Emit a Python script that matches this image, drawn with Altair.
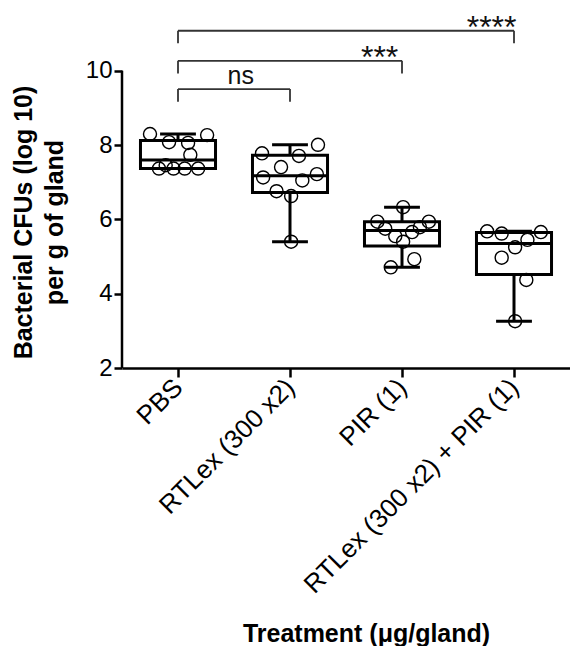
import json
import numpy as np
import pandas as pd
import altair as alt

# ---------------- data ----------------
categories = ["PBS", "RTLex (300 x2)", "PIR (1)", "RTLex (300 x2) + PIR (1)"]

pbs_values = [8.30, 8.08, 8.06, 8.27, 7.74, 7.37, 7.46, 7.37, 7.37, 7.37]
rtlex_values = [7.78, 8.01, 7.71, 7.41, 7.13, 7.22, 7.05, 6.76, 6.63, 5.40]
pir_values = [6.33, 5.94, 5.94, 5.75, 5.79, 5.66, 5.55, 5.40, 4.93, 4.71]
combo_values = [5.68, 5.62, 5.66, 5.45, 5.25, 4.97, 4.37, 3.26]

# horizontal scatter of the points (fraction of category spacing)
pbs_jitter = [-0.25, -0.08, 0.09, 0.26, 0.11, -0.17, -0.11, -0.04, 0.06, 0.18]
rtlex_jitter = [-0.25, 0.25, 0.08, -0.08, -0.24, 0.24, 0.11, -0.12, 0.01, 0.01]
pir_jitter = [0.01, -0.22, 0.24, -0.15, 0.16, 0.09, -0.06, 0.01, 0.11, -0.10]
combo_jitter = [-0.24, -0.11, 0.24, 0.12, 0.01, -0.11, 0.11, 0.01]

# significance comparisons
cmp_start = [0, 0, 0]
cmp_end = [1, 2, 3]
cmp_label = ["ns", "***", "****"]
cmp_level = [9.51, 10.27, 11.08]

y_ticks = [2, 4, 6, 8, 10]

# ---------------- tables ----------------
groups = [pbs_values, rtlex_values, pir_values, combo_values]
jitters = [pbs_jitter, rtlex_jitter, pir_jitter, combo_jitter]

pts = pd.DataFrame(
    [
        {"idx": i, "cat": categories[i], "v": v, "j": j}
        for i, (vals, jit) in enumerate(zip(groups, jitters))
        for v, j in zip(vals, jit)
    ]
)

stats_rows = []
for i, vals in enumerate(groups):
    q1, med, q3 = np.quantile(vals, [0.25, 0.5, 0.75], method="weibull")
    stats_rows.append(
        {"idx": i, "mn": min(vals), "q1": float(q1), "med": float(med),
         "q3": float(q3), "mx": max(vals)}
    )
stats = pd.DataFrame(stats_rows)

cmp = pd.DataFrame(
    {"s": cmp_start, "e": cmp_end, "label": cmp_label, "lvl": cmp_level}
)

FONT = "Liberation Sans"
W, H = 448, 351
YDOM = [2, 11.45]

xscale = alt.Scale(domain=[-0.5, 3.5], nice=False, zero=False)
yscale = alt.Scale(domain=YDOM, nice=False, zero=False)

label_expr = json.dumps(categories) + "[datum.value]"

x_axis = alt.Axis(
    values=[0, 1, 2, 3],
    labelExpr=label_expr,
    labelAngle=315,
    labelAlign="right",
    labelBaseline="middle",
    labelPadding=6,
    labelFontSize=26,
    labelLimit=500,
    labelOverlap=False,
    labelFlush=False,
    tickSize=9,
    grid=False,
    title="Treatment (\u03bcg/gland)",
    titleFontSize=25,
    titleFontWeight="bold",
    titleX=244,
    titleY=253,
    titleBaseline="top",
)
y_axis = alt.Axis(
    values=y_ticks,
    domain=False,
    grid=False,
    tickSize=8,
    labelPadding=2,
    labelFontSize=24,
    title=["Bacterial CFUs (log 10)", "per g of gland"],
    titleFontSize=25,
    titleFontWeight="bold",
    titleLineHeight=31,
    titlePadding=18,
    titleY=205,
)


def X(field):
    return alt.X(field, type="quantitative", scale=xscale, axis=x_axis)


def Y(field):
    return alt.Y(field, type="quantitative", scale=yscale, axis=y_axis)


# box
box_base = alt.Chart(stats).transform_calculate(
    lo="datum.idx - 0.335",
    hi="datum.idx + 0.335",
    clo="datum.idx - 0.16",
    chi="datum.idx + 0.16",
)

box = box_base.mark_rect(fill="white", stroke="black", strokeWidth=3).encode(
    x=X("lo"), x2="hi:Q", y=Y("q1"), y2="q3:Q"
)
median = box_base.mark_rule(color="black", strokeWidth=3).encode(
    x=X("lo"), x2="hi:Q", y=Y("med")
)
whisk_lo = box_base.mark_rule(color="black", strokeWidth=3).encode(
    x=X("idx"), y=Y("mn"), y2="q1:Q"
)
whisk_hi = box_base.mark_rule(color="black", strokeWidth=3).encode(
    x=X("idx"), y=Y("q3"), y2="mx:Q"
)
cap_lo = box_base.mark_rule(color="black", strokeWidth=3).encode(
    x=X("clo"), x2="chi:Q", y=Y("mn")
)
cap_hi = box_base.mark_rule(color="black", strokeWidth=3).encode(
    x=X("clo"), x2="chi:Q", y=Y("mx")
)

points = (
    alt.Chart(pts)
    .transform_calculate(px="datum.idx + datum.j")
    .mark_point(shape="circle", filled=False, color="black", strokeWidth=1.4,
                size=170, opacity=1)
    .encode(x=X("px"), y=Y("v"))
)

# y axis line from 2 to 10
yline = alt.Chart(pd.DataFrame({"a": [2], "b": [10]})).mark_rule(
    color="black", strokeWidth=2.5
).encode(x=alt.value(0), y=Y("a"), y2="b:Q")

# significance brackets
cmp_base = alt.Chart(cmp).transform_calculate(leg="datum.lvl - 0.34")
br_h = cmp_base.mark_rule(color="#333333", strokeWidth=1.8).encode(
    x=X("s"), x2="e:Q", y=Y("lvl")
)
br_l = cmp_base.mark_rule(color="#333333", strokeWidth=1.8).encode(
    x=X("s"), y=Y("lvl"), y2="leg:Q"
)
br_r = cmp_base.mark_rule(color="#333333", strokeWidth=1.8).encode(
    x=X("e"), y=Y("lvl"), y2="leg:Q"
)
ns_text = (
    cmp_base.transform_filter("datum.label == 'ns'")
    .transform_calculate(tx="(datum.s + datum.e) / 2 + 0.06")
    .mark_text(font=FONT, fontSize=25, baseline="alphabetic", dy=-5, color="#111111")
    .encode(x=X("tx"), y=Y("lvl"), text="label:N")
)
star_text = (
    cmp_base.transform_filter("datum.label != 'ns'")
    .transform_calculate(tx="datum.e - 0.2")
    .mark_text(font=FONT, fontSize=32, baseline="alphabetic", dy=7, color="#111111")
    .encode(x=X("tx"), y=Y("lvl"), text="label:N")
)

chart = (
    alt.layer(
        box, whisk_lo, whisk_hi, cap_lo, cap_hi, median, yline,
        br_h, br_l, br_r, ns_text, star_text, points,
    )
    .properties(
        width=W,
        height=H,
        padding={"left": 3, "top": 3, "right": 0, "bottom": 0},
        background="white",
    )
    .configure_view(stroke=None)
    .configure_axis(
        labelFont=FONT,
        titleFont=FONT,
        labelColor="black",
        titleColor="black",
        domainColor="black",
        domainWidth=2.5,
        tickColor="black",
        tickWidth=2.5,
    )
)

chart.save("out.html", embed_options={"renderer": "svg", "actions": False})
